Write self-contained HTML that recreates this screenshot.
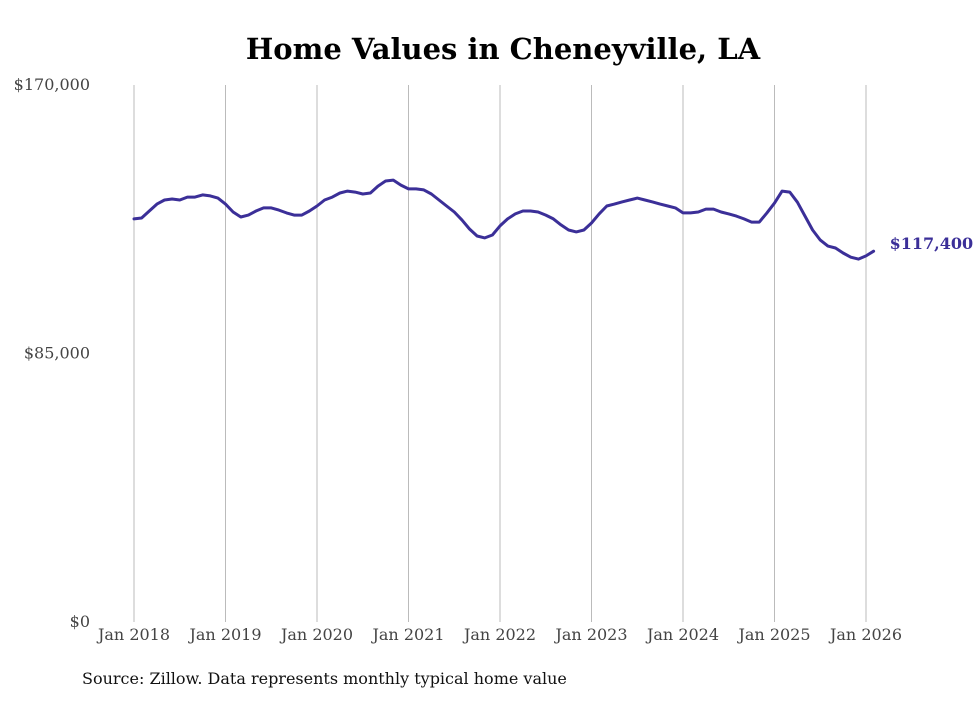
<!DOCTYPE html>
<html><head><meta charset="utf-8"><style>
body{margin:0;background:#fff;width:980px;height:699px;overflow:hidden;font-family:"DejaVu Serif",serif}
</style></head><body>
<svg id="chart" width="980" height="699" xmlns="http://www.w3.org/2000/svg">
<text x="503" y="59" text-anchor="middle" font-family="DejaVu Serif, serif" font-weight="bold" font-size="29" fill="#000">Home Values in Cheneyville, LA</text>
<g id="grid"></g><g id="yaxis"></g><g id="xaxis"></g><g id="series"></g>
<text x="82" y="684" font-family="DejaVu Serif, serif" font-size="16" fill="#111">Source: Zillow. Data represents monthly typical home value</text>
</svg>
<script>
const yTicks=[0,85000,170000];
const yTickLabels=["$0","$85,000","$170,000"];
const xTickYears=[2018,2019,2020,2021,2022,2023,2024,2025,2026];
const xTickLabels=["Jan 2018","Jan 2019","Jan 2020","Jan 2021","Jan 2022","Jan 2023","Jan 2024","Jan 2025","Jan 2026"];
const startYear=2018;
const values=[127.6,127.9,130.1,132.3,133.6,133.9,133.6,134.5,134.5,135.2,134.9,134.2,
132.3,129.8,128.2,128.8,130.1,131.1,131.1,130.4,129.5,128.8,128.8,130.1,
131.7,133.6,134.5,135.8,136.4,136.1,135.5,135.8,138.0,139.6,139.9,138.3,
137.1,137.1,136.8,135.5,133.6,131.7,129.8,127.3,124.4,122.2,121.6,122.5,
125.4,127.6,129.2,130.1,130.1,129.8,128.8,127.6,125.7,124.1,123.5,124.1,
126.3,129.2,131.7,132.3,133.0,133.6,134.2,133.6,133.0,132.3,131.7,131.1,
129.5,129.5,129.8,130.7,130.7,129.8,129.2,128.5,127.6,126.6,126.6,129.5,
132.6,136.4,136.1,132.9,128.5,124.1,120.9,119.0,118.4,116.8,115.5,114.9,
115.9,117.4];
const lastLabel="$117,400";
const NS="http://www.w3.org/2000/svg";
const x0=134,xPerYear=91.5,yBase=622,yTop=85,yMax=170000;
const X=m=>x0+m*xPerYear/12;
const Y=v=>yBase-(v/yMax)*(yBase-yTop);
function mk(t,a,p){const e=document.createElementNS(NS,t);for(const k in a)e.setAttribute(k,a[k]);p.appendChild(e);return e;}
const grid=document.getElementById('grid'),ya=document.getElementById('yaxis'),xa=document.getElementById('xaxis'),se=document.getElementById('series');
xTickYears.forEach((yr,i)=>{
 const x=X((yr-startYear)*12);
 const l=mk('line',{x1:x,x2:x,y1:yTop,y2:yBase,stroke:'#bbb','stroke-width':1},grid);
 
 
 const t=mk('text',{x:x,y:640,'text-anchor':'middle','font-size':16,fill:'#444','font-family':'DejaVu Serif, serif'},xa);
 t.textContent=xTickLabels[i];
 
 
});
yTicks.forEach((v,i)=>{
 const t=mk('text',{x:90,y:Y(v)+5,'text-anchor':'end','font-size':16,fill:'#444','font-family':'DejaVu Serif, serif'},ya);
 t.textContent=yTickLabels[i];
 
 
});
const pts=values.map((v,i)=>X(i).toFixed(1)+','+Y(v*1000).toFixed(1)).join(' ');
const pl=mk('polyline',{points:pts,fill:'none',stroke:'#3b2f98','stroke-width':3,'stroke-linejoin':'round','stroke-linecap':'round'},se);


const li=values.length-1;
const lt=mk('text',{x:X(li)+16,y:Y(values[li]*1000)-2,'font-size':16,'font-weight':'bold',fill:'#3b2f98','font-family':'DejaVu Serif, serif'},se);
lt.textContent=lastLabel;


</script>
</body></html>
